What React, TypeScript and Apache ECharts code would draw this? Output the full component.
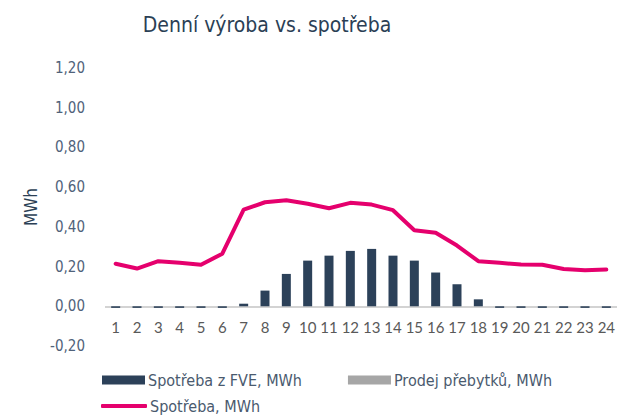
import React, { useEffect, useRef } from "react";
import * as echarts from "echarts";

const hours = ["1","2","3","4","5","6","7","8","9","10","11","12","13","14","15","16","17","18","19","20","21","22","23","24"];
const spotrebaFVE = [-0.008,-0.008,-0.008,-0.008,-0.008,-0.008,0.013,0.079,0.163,0.23,0.255,0.279,0.289,0.255,0.23,0.17,0.111,0.035,-0.008,-0.008,-0.008,-0.008,-0.008,-0.008];
const prodejPrebytku = [0,0,0,0,0,0,0,0,0,0,0,0,0,0,0,0,0,0,0,0,0,0,0,0];
const spotreba = [0.214,0.19,0.227,0.219,0.209,0.265,0.487,0.524,0.534,0.516,0.494,0.521,0.512,0.484,0.383,0.37,0.306,0.227,0.219,0.21,0.209,0.188,0.181,0.185];

const NARROW = "'DejaVu Sans Condensed', sans-serif";
const T = "rgba(255,255,255,0)";

export default function App() {
  const ref = useRef<HTMLDivElement>(null);
  useEffect(() => {
    if (!ref.current) return;
    const chart = echarts.init(ref.current, null, { renderer: "svg" });
    chart.setOption({
      animation: false,
      backgroundColor: "#ffffff",
      title: {
        text: "Denní výroba vs. spotřeba",
        left: 262,
        textAlign: "center",
        top: 9,
        textStyle: { fontFamily: NARROW, fontSize: 21, fontWeight: "normal", color: "#2b3f55" },
      },
      grid: { left: 105, right: 2, top: 68, bottom: 74, containLabel: false },
      xAxis: {
        type: "category",
        data: hours,
        position: "bottom",
        offset: -39.7,
        axisLine: { show: false },
        axisTick: { show: false },
        splitLine: { show: false },
        axisLabel: {
          interval: 0,
          fontFamily: "Lato, sans-serif",
          fontSize: 15,
          color: "#595959",
          margin: 13,
        },
      },
      yAxis: {
        type: "value",
        min: -0.2,
        max: 1.2,
        interval: 0.2,
        name: "MWh",
        nameLocation: "middle",
        nameGap: 60,
        nameTextStyle: { fontFamily: NARROW, fontSize: 17, color: "#2b3f55" },
        splitLine: {
          show: true,
          lineStyle: { color: [T, "#c4c4c4", T, T, T, T, T, T], width: 1.5 },
        },
        axisLine: { show: false },
        axisTick: { show: false },
        axisLabel: {
          fontFamily: NARROW,
          fontSize: 15,
          color: "#50627a",
          margin: 20,
          formatter: (v: number) => v.toFixed(2).replace(".", ","),
        },
      },
      legend: [
        {
          data: ["Spotřeba z FVE, MWh", "Prodej přebytků, MWh"],
          left: 102,
          top: 372,
          padding: 0,
          itemWidth: 43,
          itemHeight: 9,
          itemGap: 46,
          icon: "rect",
          textStyle: { fontFamily: NARROW, fontSize: 16, color: "#4a5a6e", padding: [0, 0, 0, -2] },
        },
        {
          data: [{ name: "Spotřeba, MWh", icon: "roundRect" }],
          left: 101,
          top: 398,
          padding: 0,
          itemWidth: 46,
          itemHeight: 4,
          textStyle: { fontFamily: NARROW, fontSize: 16, color: "#4a5a6e", padding: [0, 0, 0, -2] },
        },
      ],
      series: [
        {
          name: "Spotřeba z FVE, MWh",
          type: "bar",
          stack: "a",
          data: spotrebaFVE,
          barWidth: 9,
          itemStyle: { color: "#2c4159" },
        },
        {
          name: "Prodej přebytků, MWh",
          type: "bar",
          stack: "a",
          data: prodejPrebytku,
          barWidth: 9,
          itemStyle: { color: "#a6a6a6" },
        },
        {
          name: "Spotřeba, MWh",
          type: "line",
          data: spotreba,
          symbol: "none",
          lineStyle: { color: "#e5006d", width: 4, cap: "round", join: "round" },
          itemStyle: { color: "#e5006d" },
        },
      ],
    });
    return () => chart.dispose();
  }, []);
  return <div ref={ref} style={{ width: 619, height: 420, position: "absolute", left: 0, top: 0 }} />;
}
